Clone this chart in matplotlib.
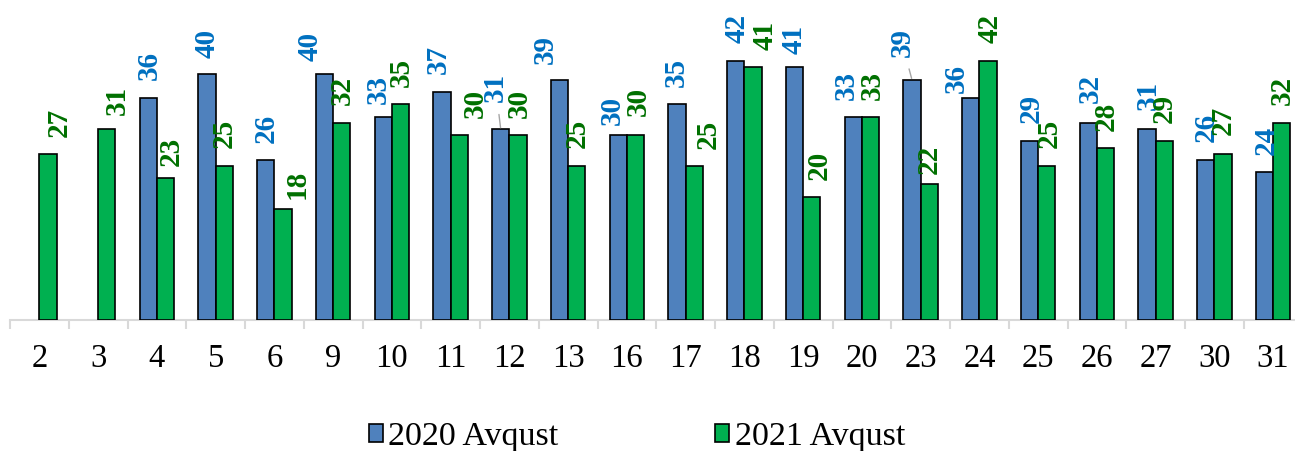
import numpy as np
import matplotlib.pyplot as plt

# daily values, August 2020 vs August 2021
days = ['2', '3', '4', '5', '6', '9', '10', '11', '12', '13', '16',
        '17', '18', '19', '20', '23', '24', '25', '26', '27', '30', '31']
avg_2020 = [np.nan, np.nan, 36, 40, 26, 40, 33, 37, 31, 39, 30,
            35, 42, 41, 33, 39, 36, 29, 32, 31, 26, 24]
avg_2021 = [27, 31, 23, 25, 18, 32, 35, 30, 30, 25, 30,
            25, 41, 20, 33, 22, 42, 25, 28, 29, 27, 32]

# hand-placed label offsets (pixels from bar top centre)
off_2020 = [(0, 0), (0, 0), (1, 18), (0, 16), (1, 17), (-14, 13), (-5, 13),
            (-4, 18), (-5, 27), (-14, 16), (-6, 10), (-1, 17), (1, 18),
            (0, 13), (-7, 17), (-10, 23), (-14, 5), (2, 18), (2, 20),
            (1, 19), (1, 18), (2, 17)]
off_2021 = [(11, 17), (11, 14), (6, 12), (0, 18), (14, 10), (1, 18), (1, 17),
            (16, 17), (1, 17), (0, 18), (3, 19), (14, 17), (12, 17),
            (7, 17), (2, 17), (0, 10), (2, 18), (2, 18), (1, 17),
            (0, 18), (0, 19), (1, 18)]
leader_2020 = {'12', '23'}

plt.rcParams['font.family'] = ['Liberation Serif', 'DejaVu Serif']

W, H = 1295, 451
fig = plt.figure(figsize=(W / 100, H / 100), dpi=100)
ax = fig.add_axes([10 / W, (H - 320) / H, 22 * 58.75 / W, 320 / H])

x = np.arange(len(days))
bw = 0.295
ax.bar(x - bw / 2, avg_2020, bw, color='#4F81BD', edgecolor='black',
       linewidth=1.2, label='2020 Avqust', zorder=3)
ax.bar(x + bw / 2, avg_2021, bw, color='#00B050', edgecolor='black',
       linewidth=1.2, label='2021 Avqust', zorder=3)

lab_kw = dict(textcoords='offset pixels', ha='center', va='bottom',
              rotation=90, fontsize=21, fontweight='bold')
for i, d in enumerate(days):
    v = avg_2020[i]
    if not np.isnan(v):
        arrow = None
        if d in leader_2020:
            arrow = dict(arrowstyle='-', color='#A6A6A6', lw=1,
                         shrinkA=7, shrinkB=1)
        ax.annotate(f'{v:.0f}', xy=(x[i] - bw / 2, v), xytext=off_2020[i],
                    color='#0070C0', arrowprops=arrow, **lab_kw)
    v = avg_2021[i]
    ax.annotate(f'{v:.0f}', xy=(x[i] + bw / 2, v), xytext=off_2021[i],
                color='#007000', **lab_kw)

ax.set_xlim(-0.5, len(days) - 0.5)
ax.set_ylim(0, 320 / 6.16)
ax.set_yticks([])
for s in ['top', 'right', 'left']:
    ax.spines[s].set_visible(False)
ax.spines['bottom'].set_color('#D9D9D9')
ax.spines['bottom'].set_linewidth(1.5)

ax.set_xticks(x)
ax.set_xticklabels(days, fontsize=23.5)
ax.set_xticks(np.arange(len(days) + 1) - 0.5, minor=True)
ax.tick_params(axis='x', which='major', length=0, pad=17)
ax.tick_params(axis='x', which='minor', length=6.5, width=1.5,
               color='#D9D9D9', direction='out')

fig.legend(loc='center', bbox_to_anchor=(637 / W, 14 / H), ncol=2,
           frameon=False, fontsize=24.5, handlelength=0.42, handleheight=0.42,
           handletextpad=0.15, columnspacing=4.6)

fig.savefig('out.png', dpi=100)
